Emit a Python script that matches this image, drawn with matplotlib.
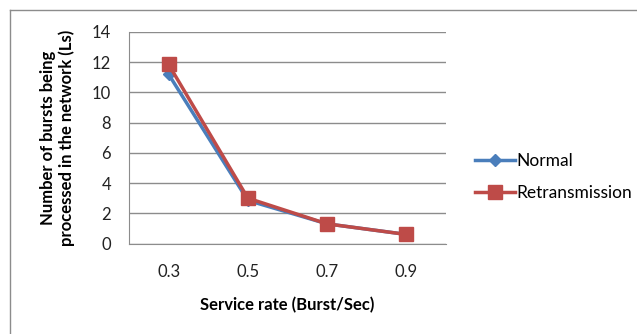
import matplotlib
matplotlib.use("Agg")
import matplotlib.pyplot as plt
from matplotlib.lines import Line2D

categories = ["0.3", "0.5", "0.7", "0.9"]
normal = [11.2, 2.85, 1.3, 0.6]
retransmission = [11.85, 3.0, 1.3, 0.6]
y_ticks = [0, 2, 4, 6, 8, 10, 12, 14]

plt.rcParams['font.family'] = ['Lato', 'DejaVu Sans']

fig = plt.figure(figsize=(6.37, 3.34), dpi=100)
fig.patch.set_facecolor("white")

# outer chart frame (left and top edges)
fig.add_artist(Line2D([10/637, 10/637], [0, 1 - 10/334], color="#8c8c8c", lw=1.0))
fig.add_artist(Line2D([10/637, 1], [1 - 10/334, 1 - 10/334], color="#8c8c8c", lw=1.0))

ax = fig.add_axes([129/637, 1 - 243.5/334, (446 - 129)/637, (243.5 - 32)/334])
x = list(range(len(categories)))

ax.plot(x, normal, color="#4a7ebb", lw=2.5, marker="D", markersize=6,
        label="Normal", zorder=3)
ax.plot(x, retransmission, color="#be4b48", lw=2.5, marker="s", markersize=10,
        label="Retransmission", zorder=4)

ax.set_xlim(-0.5, len(categories) - 0.5)
ax.set_ylim(0, 14)
ax.set_yticks(y_ticks)
ax.set_yticklabels([str(v) for v in y_ticks])
ax.set_xticks(x)
ax.set_xticklabels(categories)

ax.yaxis.grid(True, color="#8c8c8c", lw=1.0)
ax.set_axisbelow(True)
for s in ["top", "right"]:
    ax.spines[s].set_visible(False)
ax.spines["left"].set_color("#8c8c8c")
ax.spines["bottom"].set_color("#8c8c8c")
ax.tick_params(axis="both", length=0, labelsize=12, colors="#222222")
ax.tick_params(axis="y", pad=13)
ax.tick_params(axis="x", pad=15)

ax.set_xlabel("Service rate (Burst/Sec)", fontsize=12, fontweight="bold", labelpad=12)
ax.set_ylabel("Number of bursts being\nprocessed in the network (Ls)", fontsize=12,
              fontweight="bold", labelpad=12)

fig.legend(loc="upper left", bbox_to_anchor=(459/637, 1 - 137/334), frameon=False,
           fontsize=12.5, handlelength=2.3, handletextpad=0.1, labelspacing=0.95)

fig.savefig("out.png", dpi=100, facecolor="white")
